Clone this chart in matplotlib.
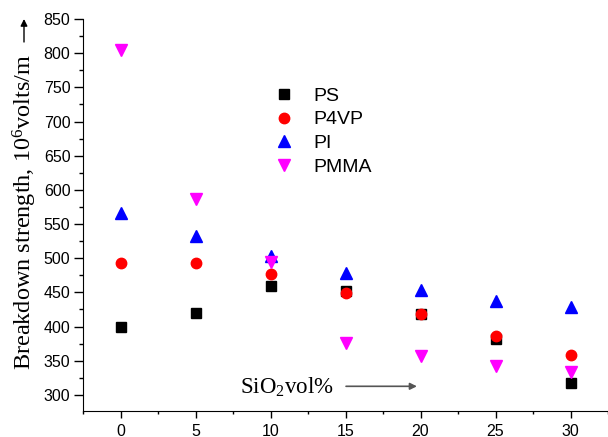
import matplotlib
matplotlib.use("Agg")
import matplotlib.pyplot as plt
from matplotlib.ticker import MultipleLocator

plt.rcParams['font.family'] = ['Liberation Sans', 'DejaVu Sans']
plt.rcParams['mathtext.fontset'] = 'custom'
plt.rcParams['mathtext.rm'] = 'Liberation Serif'
plt.rcParams['mathtext.it'] = 'Liberation Serif:italic'

x = [0, 5, 10, 15, 20, 25, 30]
ps = [399, 420, 459, 452, 418, 382, 318]
p4vp = [493, 493, 477, 449, 418, 386, 358]
pi = [566, 532, 503, 478, 453, 437, 428]
pmma = [805, 586, 495, 376, 357, 342, 333]

series = [
    ("PS", ps, "s", "black", 6.5),
    ("P4VP", p4vp, "o", "red", 7.5),
    ("PI", pi, "^", "blue", 8),
    ("PMMA", pmma, "v", "#FF00FF", 8),
]

fig = plt.figure(figsize=(6.08, 4.37), dpi=100)
ax = fig.add_axes([83/608, 1-411/437, 525/608, 392/437])

for name, vals, m, c, ms in series:
    ax.plot(x, vals, linestyle='none', marker=m, color=c, markersize=ms, label=name)

ax.set_xlim(-2.5, 32.5)
ax.set_ylim(276.5, 850)
ax.xaxis.set_major_locator(MultipleLocator(5))
ax.xaxis.set_minor_locator(MultipleLocator(2.5))
ax.yaxis.set_major_locator(MultipleLocator(50))
ax.yaxis.set_minor_locator(MultipleLocator(25))
ax.tick_params(axis='x', which='major', direction='out', length=5, width=1, labelsize=11.5, pad=4)
ax.tick_params(axis='y', which='major', direction='out', length=6.5, width=1, labelsize=11.5, pad=2.5)
ax.tick_params(axis='x', which='minor', direction='out', length=2.5, width=1)
ax.tick_params(axis='y', which='minor', direction='out', length=3, width=1)
for s in ['top', 'right']:
    ax.spines[s].set_visible(False)

ax.set_ylabel("Breakdown strength, $\\mathrm{10^6}$volts/m", fontfamily='Liberation Serif', fontsize=17.5)
ax.yaxis.set_label_coords((39-83)/525, (411-212)/392)

ax.text(0.299, 0.060, "SiO$_\\mathrm{2}$vol%", transform=ax.transAxes, fontfamily='Liberation Serif',
        fontsize=16.5, va='center', ha='left')
ax.annotate("", xy=(0.636, 0.063), xytext=(0.501, 0.063), xycoords='axes fraction',
            arrowprops=dict(arrowstyle='-|>', color='#555555', lw=1.2, mutation_scale=10,
                            shrinkA=0, shrinkB=0))
fig.add_artist(matplotlib.patches.FancyArrowPatch((24/608, 1-42/437), (24/608, 1-19/437),
               transform=fig.transFigure, arrowstyle='-|>', color='black', lw=1.0, mutation_scale=10,
               shrinkA=0, shrinkB=0))

leg = ax.legend(loc='upper left', bbox_to_anchor=((272-83)/525, (411-87)/392), frameon=False,
                fontsize=14, handletextpad=0.93, labelspacing=0.32, borderpad=0, borderaxespad=0,
                handlelength=1.2)

fig.savefig("out.png", dpi=100)
